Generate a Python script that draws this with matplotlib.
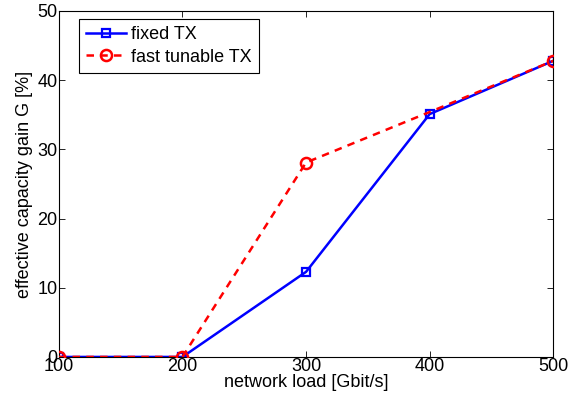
import matplotlib
matplotlib.use("Agg")
import matplotlib.pyplot as plt

plt.rcParams['font.family'] = ['Liberation Sans', 'DejaVu Sans']

load = [100, 200, 300, 400, 500]
fixed_tx = [0, 0, 12.3, 35.1, 42.8]
tunable_tx = [0, 0, 28.1, 35.4, 42.8]

fig = plt.figure(figsize=(5.71, 4.07), dpi=100)
ax = fig.add_axes([0.103, 0.123, 0.866, 0.850])

ax.plot(load, fixed_tx, '-s', color='#0000ff', lw=1.8, ms=6,
        mfc='none', mew=1.6, label='fixed TX', zorder=2)
# no circle is drawn at 400 in the original
ax.plot(load, tunable_tx, '--o', color='#ff0000', lw=1.8, ms=8,
        mfc='none', mew=1.8, dashes=(3, 2.5), markevery=[0, 1, 2, 4],
        label='fast tunable TX', zorder=3)

ax.set_xlim(100, 500)
ax.set_ylim(0, 50)
ax.set_xticks([100, 200, 300, 400, 500])
ax.set_yticks([0, 10, 20, 30, 40, 50])
ax.tick_params(direction='in', top=True, right=True, labelsize=13,
               length=4, width=0.6, pad=1)
for s in ax.spines.values():
    s.set_linewidth(0.8)

ax.set_xlabel('network load [Gbit/s]', fontsize=13, labelpad=-1)
ax.set_ylabel('effective capacity gain G [%]', fontsize=13, labelpad=3)

leg = ax.legend(loc='upper left', bbox_to_anchor=(0.04, 0.977), fontsize=13,
                fancybox=False, framealpha=1, edgecolor='black',
                handlelength=2.2, handletextpad=0.3, borderpad=0.4,
                labelspacing=0.3, borderaxespad=0)
leg.get_frame().set_linewidth(0.8)

fig.savefig('out.png', dpi=100)
